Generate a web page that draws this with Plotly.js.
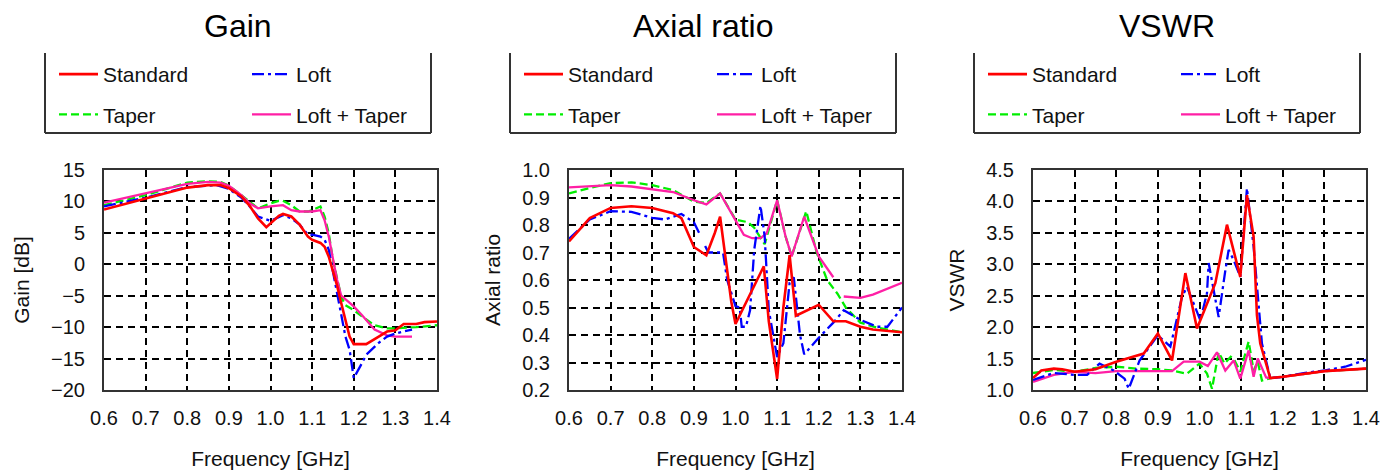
<!DOCTYPE html>
<html>
<head>
<meta charset="utf-8">
<script src="https://cdn.plot.ly/plotly-3.0.1.min.js"></script>
<style>html,body{margin:0;padding:0;background:#fff;}#chart{width:1394px;height:475px;}</style>
</head>
<body>
<div id="chart"></div>
<script>
// ---------- Panel titles / axis labels ----------
const panelTitles = ['Gain', 'Axial ratio', 'VSWR'];
const yTitles = ['Gain [dB]', 'Axial ratio', 'VSWR'];
const xTitle = 'Frequency [GHz]';
const seriesNames = ['Standard', 'Loft', 'Taper', 'Loft + Taper'];

// ---------- Gain [dB] ----------
const gainStdX = [0.6,0.7,0.8,0.85,0.88,0.9,0.93,0.95,0.97,0.99,1.0,1.02,1.03,1.05,1.07,1.09,1.1,1.12,1.13,1.14,1.15,1.16,1.17,1.18,1.19,1.2,1.23,1.26,1.28,1.3,1.32,1.35,1.37,1.4];
const gainStdY = [8.7,10.4,12.2,12.6,12.6,12.1,10.8,9.3,7.3,5.9,6.5,7.7,8.0,7.6,6.3,4.4,3.9,3.4,2.8,1.2,-1.1,-3.4,-6.2,-8.9,-11.5,-12.7,-12.7,-11.5,-10.7,-10.5,-9.5,-9.5,-9.2,-9.1];
const gainTaperX = [0.6,0.7,0.8,0.85,0.88,0.9,0.93,0.95,0.97,1.0,1.02,1.03,1.05,1.07,1.09,1.1,1.11,1.12,1.13,1.14,1.15,1.16,1.17,1.18,1.2,1.22,1.25,1.28,1.3,1.35,1.4];
const gainTaperY = [9.4,11.0,13.0,13.2,13.1,12.5,11.0,10.0,8.9,9.7,10.1,10.1,9.4,8.4,8.4,8.6,8.9,9.2,7.6,4.9,0.7,-2.5,-5.2,-6.5,-7.3,-8.3,-9.7,-10.2,-10.2,-10.0,-9.7];
const gainLoftX = [0.6,0.7,0.8,0.87,0.9,0.93,0.95,0.97,1.0,1.03,1.05,1.07,1.09,1.1,1.12,1.13,1.14,1.15,1.16,1.17,1.18,1.19,1.2,1.22,1.23,1.26,1.28,1.3,1.33,1.34];
const gainLoftY = [9.2,10.6,12.3,12.6,12.0,10.6,9.2,7.6,6.9,7.8,7.3,6.3,4.7,4.7,4.4,3.9,2.3,-1.1,-4.6,-7.8,-11.5,-13.6,-18.1,-15.7,-14.4,-12.5,-11.5,-11.0,-10.5,-10.4];
const gainLoftTaperX = [0.6,0.7,0.8,0.85,0.88,0.9,0.93,0.95,0.97,1.0,1.03,1.05,1.07,1.1,1.12,1.13,1.14,1.15,1.16,1.17,1.2,1.22,1.25,1.28,1.3,1.34];
const gainLoftTaperY = [9.8,11.3,12.8,13.1,13.0,12.5,11.0,9.7,8.9,9.2,9.4,8.6,8.4,8.4,8.6,7.0,4.4,0.9,-2.5,-5.0,-6.7,-8.1,-10.4,-11.3,-11.5,-11.5];

// ---------- Axial ratio ----------
const arStdX = [0.6,0.65,0.7,0.75,0.8,0.85,0.87,0.9,0.93,0.95,0.963,0.975,0.99,1.0,1.03,1.068,1.08,1.1,1.115,1.13,1.145,1.2,1.235,1.265,1.3,1.33,1.4];
const arStdY = [0.74,0.825,0.862,0.868,0.862,0.843,0.825,0.72,0.69,0.77,0.83,0.7,0.52,0.44,0.53,0.65,0.45,0.24,0.5,0.69,0.47,0.51,0.45,0.45,0.43,0.42,0.41];
const arTaperX = [0.6,0.65,0.7,0.75,0.8,0.85,0.9,0.93,0.963,1.0,1.03,1.045,1.07,1.1,1.12,1.135,1.17,1.195,1.22,1.245,1.265,1.3,1.34,1.4];
const arTaperY = [0.915,0.935,0.952,0.955,0.945,0.927,0.885,0.88,0.915,0.82,0.81,0.79,0.73,0.89,0.76,0.686,0.85,0.70,0.60,0.55,0.50,0.445,0.427,0.41];
const arLoftX = [0.6,0.65,0.7,0.75,0.8,0.83,0.87,0.9,0.915,null,0.927,0.935,0.95,0.97,0.98,1.0,1.01,1.015,1.025,1.035,1.045,1.055,1.06,1.07,1.08,1.1,1.115,1.13,1.14,1.155,1.165,1.2,1.235,1.26,1.3,1.34,1.365,1.4];
const arLoftY = [0.75,0.82,0.85,0.848,0.826,0.82,0.84,0.81,0.764,null,0.724,0.70,0.70,0.70,0.60,0.505,0.50,0.43,0.43,0.49,0.71,0.82,0.87,0.76,0.49,0.32,0.37,0.59,0.61,0.40,0.33,0.39,0.445,0.49,0.455,0.43,0.43,0.5];
const arLoftTaperX = [0.6,0.65,0.7,0.75,0.8,0.85,0.9,0.93,0.963,1.0,1.02,1.04,1.06,1.075,1.1,1.12,1.135,1.165,1.2,1.235,null,1.26,1.3,1.33,1.36,1.4];
const arLoftTaperY = [0.937,0.94,0.945,0.94,0.93,0.92,0.89,0.875,0.915,0.82,0.764,0.752,0.752,0.77,0.89,0.76,0.686,0.83,0.686,0.61,null,0.54,0.535,0.547,0.565,0.59];

// ---------- VSWR ----------
const vswrStdX = [0.6,0.62,0.65,0.67,0.7,0.75,0.8,0.866,0.9,0.934,0.966,0.994,1.038,1.066,1.098,1.114,1.13,1.138,1.146,1.17,1.2,1.25,1.3,1.35,1.4];
const vswrStdY = [1.19,1.31,1.34,1.33,1.29,1.33,1.45,1.58,1.9,1.47,2.86,1.98,2.7,3.63,2.8,4.1,3.44,2.19,1.74,1.19,1.21,1.26,1.3,1.32,1.34];
const vswrTaperX = [0.6,0.65,0.7,0.75,0.8,0.85,0.9,0.934,0.97,1.0,1.018,1.03,1.046,1.06,1.075,1.082,1.098,1.118,1.13,1.14,1.15,1.17,1.2,1.3,1.4];
const vswrTaperY = [1.27,1.32,1.29,1.35,1.37,1.34,1.33,1.31,1.26,1.42,1.26,1.02,1.6,1.42,1.53,1.5,1.29,1.77,1.31,1.45,1.15,1.19,1.21,1.3,1.34];
const vswrLoftX = [0.6,0.65,0.7,0.73,0.76,0.794,0.82,0.83,0.856,0.9,0.93,0.958,0.97,1.002,1.018,1.022,1.034,1.046,1.062,1.07,1.082,1.098,1.114,1.13,1.15,1.17,1.2,1.25,1.3,1.35,1.4];
const vswrLoftY = [1.16,1.27,1.24,1.24,1.42,1.31,1.18,1.02,1.47,1.87,1.69,2.48,2.64,2.11,2.54,3.02,2.59,2.16,2.9,3.23,3.07,2.8,4.21,3.28,1.74,1.19,1.21,1.27,1.31,1.37,1.48];
const vswrLoftTaperX = [0.6,0.65,0.7,0.75,0.8,0.85,0.9,0.934,0.962,1.0,1.02,1.042,1.062,1.082,1.098,1.118,1.13,1.14,1.16,1.17,1.2,1.3,1.4];
const vswrLoftTaperY = [1.13,1.24,1.29,1.27,1.3,1.3,1.31,1.3,1.45,1.45,1.38,1.6,1.31,1.47,1.18,1.63,1.21,1.5,1.2,1.19,1.21,1.3,1.34];

// ---------- styling ----------
const FONT = '"Liberation Sans", Arial, sans-serif';
const TXT = '#111';
const W = 1394, H = 475;
const styles = {
  'Standard':     {color: '#ff0000', width: 2.6, dash: 'solid', rank: 1},
  'Taper':        {color: '#00ee00', width: 2.3, dash: '8px,4px', rank: 2},
  'Loft':         {color: '#0000ff', width: 2.3, dash: '12px,4px,3px,4px', rank: 1},
  'Loft + Taper': {color: '#ff1fa5', width: 2.3, dash: 'solid', rank: 2}
};
const panels = [
  {data: {'Standard':[gainStdX,gainStdY],'Loft':[gainLoftX,gainLoftY],'Taper':[gainTaperX,gainTaperY],'Loft + Taper':[gainLoftTaperX,gainLoftTaperY]}, range:[-20,15], dtick:5, fmt:'d'},
  {data: {'Standard':[arStdX,arStdY],'Loft':[arLoftX,arLoftY],'Taper':[arTaperX,arTaperY],'Loft + Taper':[arLoftTaperX,arLoftTaperY]}, range:[0.2,1.0], dtick:0.1, fmt:'.1f'},
  {data: {'Standard':[vswrStdX,vswrStdY],'Loft':[vswrLoftX,vswrLoftY],'Taper':[vswrTaperX,vswrTaperY],'Loft + Taper':[vswrLoftTaperX,vswrLoftTaperY]}, range:[1.0,4.5], dtick:0.5, fmt:'.1f'}
];
const plotLeft = [104, 569, 1033];
const plotWidth = 333;
const plotTop = 170, plotBottom = 390;

const traces = [];
const drawOrder = ['Taper', 'Loft + Taper', 'Loft', 'Standard'];
panels.forEach((p, i) => {
  const sfx = i === 0 ? '' : String(i + 1);
  drawOrder.forEach(name => {
    const st = styles[name];
    const col = (name === 'Standard' || name === 'Taper') ? 0 : 1;
    const legId = 'legend' + (i * 2 + col === 0 ? '' : String(i * 2 + col + 1));
    traces.push({
      type: 'scatter', mode: 'lines', name: name,
      x: p.data[name][0], y: p.data[name][1],
      xaxis: 'x' + sfx, yaxis: 'y' + sfx,
      line: {color: st.color, width: st.width, dash: st.dash},
      connectgaps: false,
      legend: legId, legendgroup: 'g' + i + name, legendrank: st.rank,
      hoverinfo: 'skip'
    });
  });
});

const layout = {
  width: W, height: H,
  margin: {l: 0, r: 0, t: 0, b: 0},
  paper_bgcolor: '#fff', plot_bgcolor: '#fff',
  font: {family: FONT, color: TXT, size: 20},
  showlegend: true,
  annotations: [], shapes: []
};

panels.forEach((p, i) => {
  const sfx = i === 0 ? '' : String(i + 1);
  const L = plotLeft[i];
  layout['xaxis' + sfx] = {
    domain: [L / W, (L + plotWidth) / W], anchor: 'y' + sfx,
    range: [0.6, 1.4], dtick: 0.1, tick0: 0.6, tickformat: '.1f',
    showgrid: true, gridcolor: '#000', gridwidth: 2, griddash: '7px,5px',
    zeroline: false, showline: true, mirror: true, linecolor: '#333', linewidth: 2,
    ticks: '', ticklabelstandoff: 9,
    tickfont: {family: FONT, size: 20, color: TXT},
    title: {text: xTitle, font: {family: FONT, size: 21, color: TXT}, standoff: 23}
  };
  layout['yaxis' + sfx] = {
    domain: [(H - plotBottom) / H, (H - plotTop) / H], anchor: 'x' + sfx,
    range: p.range, dtick: p.dtick, tick0: p.range[0], tickformat: p.fmt,
    showgrid: true, gridcolor: '#000', gridwidth: 2, griddash: '7px,5px',
    zeroline: false, showline: true, mirror: true, linecolor: '#333', linewidth: 2,
    ticks: '', ticklabelstandoff: 13,
    tickfont: {family: FONT, size: 20, color: TXT},
    title: {text: yTitles[i], font: {family: FONT, size: 21, color: TXT}, standoff: 16}
  };
  // panel title
  const boxL = L - 59, boxR = L + plotWidth - 6;
  layout.annotations.push({
    text: panelTitles[i], xref: 'paper', yref: 'paper',
    x: ((boxL + boxR) / 2) / W, y: 1 - 26 / H, xanchor: 'center', yanchor: 'middle',
    showarrow: false, font: {family: FONT, size: 32, color: '#000'}
  });
  // legend box (open at top)
  const bt = 1 - 53 / H, bb = 1 - 133 / H;
  const lineStyle = {color: '#333', width: 2};
  layout.shapes.push(
    {type: 'line', xref: 'paper', yref: 'paper', x0: boxL / W, x1: boxL / W, y0: bt, y1: bb, line: lineStyle},
    {type: 'line', xref: 'paper', yref: 'paper', x0: boxL / W, x1: boxR / W, y0: bb, y1: bb, line: lineStyle},
    {type: 'line', xref: 'paper', yref: 'paper', x0: boxR / W, x1: boxR / W, y0: bt, y1: bb, line: lineStyle}
  );
  // two legend columns per panel
  [0, 1].forEach(col => {
    const n = i * 2 + col;
    const key = 'legend' + (n === 0 ? '' : String(n + 1));
    const sampleStart = L - 45 + col * 193;
    layout[key] = {
      x: (sampleStart - 5) / W, y: 1 - 54 / H, xanchor: 'left', yanchor: 'top',
      xref: 'paper', yref: 'paper', orientation: 'v',
      bgcolor: 'rgba(0,0,0,0)', borderwidth: 0,
      font: {family: FONT, size: 21, color: TXT},
      itemwidth: 39, tracegroupgap: 10, traceorder: 'grouped',
      itemclick: false, itemdoubleclick: false
    };
  });
});

Plotly.newPlot('chart', traces, layout, {staticPlot: true, displayModeBar: false});
</script>
</body>
</html>
